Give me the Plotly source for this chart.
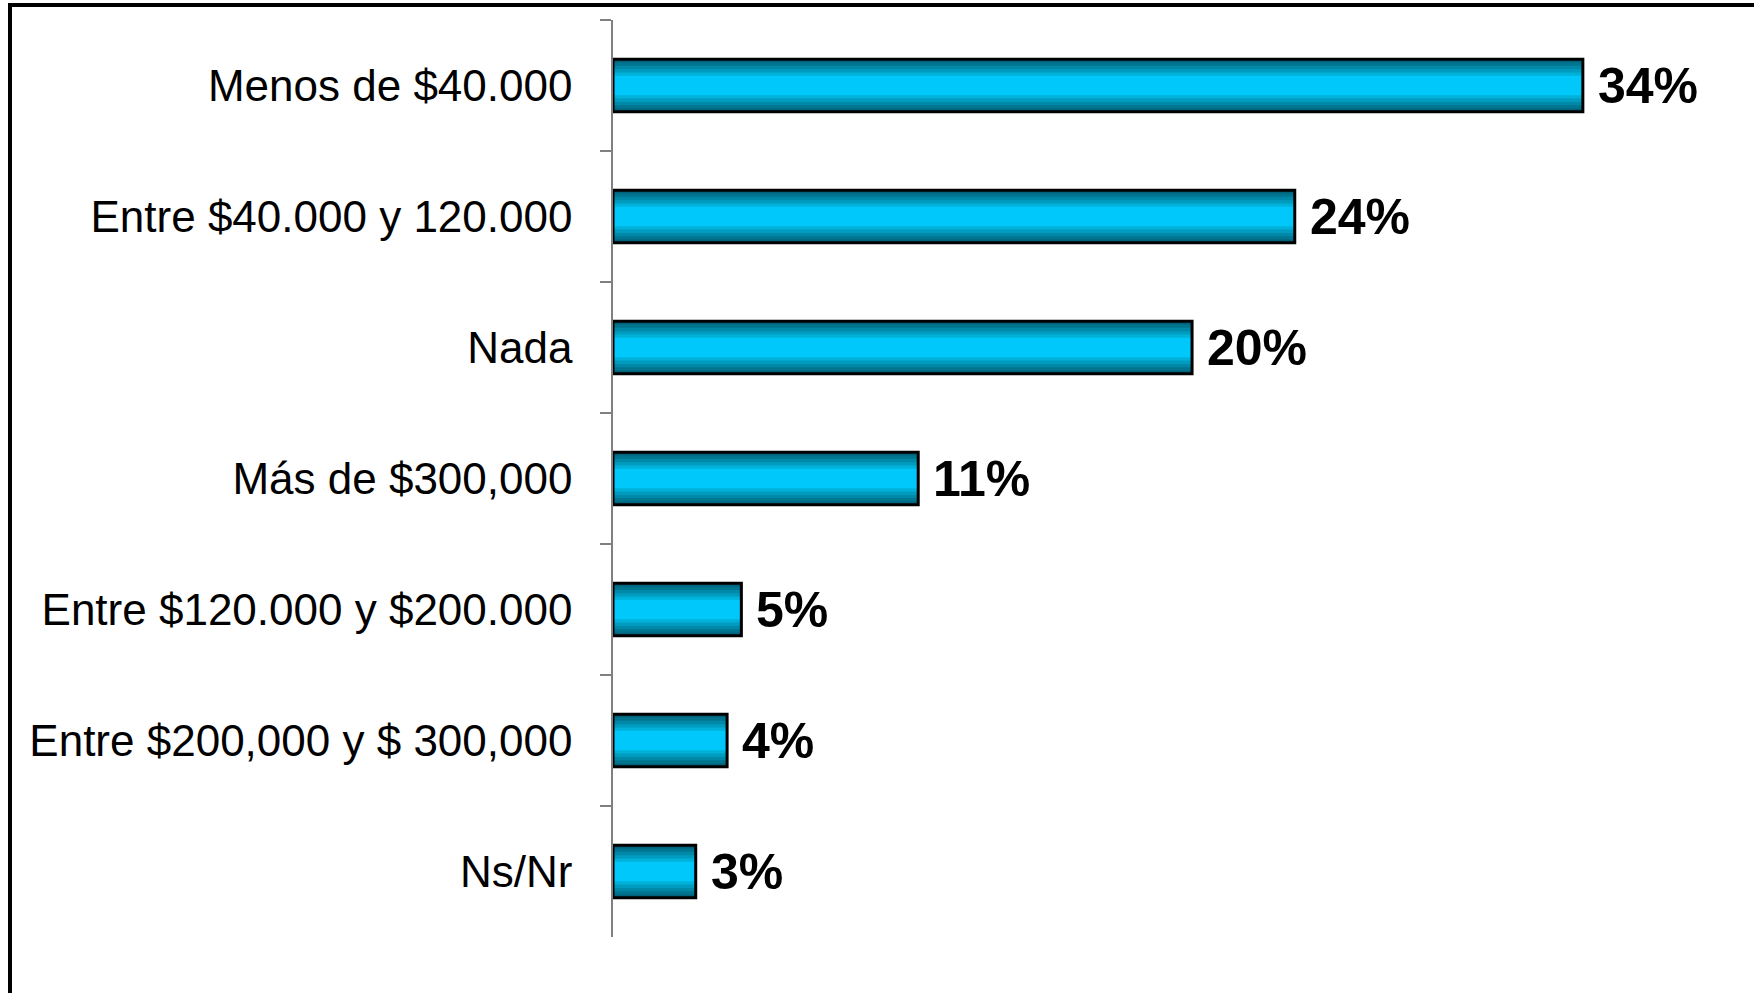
import plotly.graph_objects as go

categories = ["Menos de $40.000", "Entre $40.000 y 120.000", "Nada", "Más de $300,000",
              "Entre $120.000 y $200.000", "Entre $200,000 y $ 300,000", "Ns/Nr"]
values = [34.0, 23.9, 20.3, 10.7, 4.5, 4.0, 2.9]
value_labels = ["34%", "24%", "20%", "11%", "5%", "4%", "3%"]

# gradient bands (outer -> inner) to imitate the shaded bar fill
band_widths = [0.40, 0.35, 0.30, 0.25, 0.20, 0.15]
band_colors = ["#00637C", "#00758F", "#0088A8", "#009CC0", "#00B2DA", "#00C8FA"]

fig = go.Figure()
for w, c in zip(band_widths, band_colors):
    fig.add_trace(go.Bar(
        y=categories, x=values, orientation="h",
        width=w, marker=dict(color=c, line=dict(width=0)),
        hoverinfo="skip", showlegend=False,
    ))
fig.add_trace(go.Bar(
    y=categories, x=values, orientation="h", width=0.40,
    marker=dict(color="rgba(0,0,0,0)", line=dict(color="black", width=3)),
    hoverinfo="skip", showlegend=False,
))

annotations = [
    dict(x=v, y=c, xref="x", yref="y", text=t, showarrow=False,
         xanchor="left", yanchor="middle", xshift=13, yshift=0,
         font=dict(family="Liberation Sans, Arial", size=50, color="black", weight="bold"))
    for c, v, t in zip(categories, values, value_labels)
]

W, H = 1754, 993
ml, mr, mt, mb = 613, 0, 20, 56
pw, ph = W - ml - mr, H - mt - mb

def px_x(p):
    return (p - ml) / pw

def px_y(p):
    return 1 - (p - mt) / ph

fig.update_layout(
    width=W, height=H,
    margin=dict(l=ml, r=mr, t=mt, b=mb, pad=0),
    barmode="overlay",
    plot_bgcolor="white", paper_bgcolor="white",
    font=dict(family="Liberation Sans, Arial", color="black"),
    xaxis=dict(range=[0, 40], visible=False, showgrid=False, zeroline=False),
    yaxis=dict(
        categoryorder="array", categoryarray=categories, autorange="reversed",
        tickson="boundaries", ticks="outside", ticklen=11, tickwidth=1.5, tickcolor="#808080",
        showline=True, linecolor="#808080", linewidth=1.5,
        showgrid=False, zeroline=False,
        tickfont=dict(family="Liberation Sans, Arial", size=44, color="black"),
        ticklabelstandoff=30,
    ),
    annotations=annotations,
    shapes=[dict(type="rect", xref="paper", yref="paper",
                 x0=px_x(10), x1=px_x(1770), y0=px_y(1010), y1=px_y(5),
                 line=dict(color="black", width=4), fillcolor="rgba(0,0,0,0)", layer="above")],
)

fig.write_html("out.html", config={"displayModeBar": False},
               post_script="document.body.style.margin='0';document.body.style.padding='0';")
